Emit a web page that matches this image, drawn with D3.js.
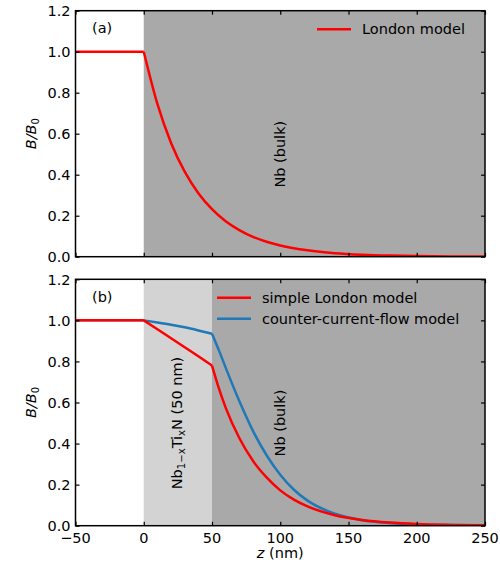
<!DOCTYPE html>
<html>
<head>
<meta charset="utf-8">
<script src="https://cdn.jsdelivr.net/npm/d3@7"></script>
<style>
  body { margin: 0; background: #fff; }
  svg text { font-family: "DejaVu Sans", sans-serif; fill: #000; }
  .axis path, .axis line { stroke: #000; }
</style>
</head>
<body>
<div id="chart"></div>
<script>
"use strict"

// values
const xTicks = [-50, 0, 50, 100, 150, 200, 250];
const yTicks = [0.0, 0.2, 0.4, 0.6, 0.8, 1.0, 1.2];

const zA =      [-50, 0,   10,    20,    30,    40,   50,    60,    70,   80,    90,    100,   120,   140,   160,    180,    200,   225,    250];
const londonA = [1.0, 1.0, 0.745, 0.555, 0.415, 0.31, 0.232, 0.173, 0.13, 0.097, 0.073, 0.055, 0.031, 0.017, 0.0095, 0.0053, 0.003, 0.0015, 0.0007];

const zB =       [-50, 0,   10,    20,    30,    40,    50,    55,    60,    70,    80,    90,    100,   110,   120,   140,   160,   180,   200,   225,   250];
const londonB =  [1.0, 1.0, 0.957, 0.913, 0.869, 0.825, 0.78,  0.67,  0.575, 0.427, 0.316, 0.235, 0.172, 0.127, 0.094, 0.051, 0.028, 0.015, 0.008, 0.004, 0.002];
const counterB = [1.0, 1.0, 0.99,  0.979, 0.966, 0.951, 0.935, 0.855, 0.77,  0.607, 0.462, 0.343, 0.248, 0.175, 0.122, 0.058, 0.027, 0.013, 0.006, 0.003, 0.001];

const panels = [
  { tag: "(a)", top: 10.7, bottom: 256.7, showX: false, kinks: [0],
    regions: [{ from: 0, to: 250, color: "#a9a9a9" }],
    series: [{ name: "London model", z: zA, v: londonA, color: "#ff0000" }],
    labels: [{ z: 100, y: 0.5, text: "Nb (bulk)" }] },
  { tag: "(b)", top: 279.3, bottom: 525.7, showX: true, kinks: [0, 50],
    regions: [{ from: 0, to: 50, color: "#d3d3d3" }, { from: 50, to: 250, color: "#a9a9a9" }],
    series: [{ name: "simple London model", z: zB, v: londonB, color: "#ff0000" },
             { name: "counter-current-flow model", z: zB, v: counterB, color: "#1f78b8" }],
    labels: [{ z: 100, y: 0.5, text: "Nb (bulk)" }, { z: 24, y: 0.5, text: "NbTiN" }] }
];

const totalWidth = 500, totalHeight = 563;
const left = 75.5, right = 485;
const fontSize = 14.5;

const svg = d3.select("#chart").append("svg")
  .attr("width", totalWidth)
  .attr("height", totalHeight);

const x = d3.scaleLinear().domain([-50, 250]).range([left, right]);

// split a series at the layer boundaries so each piece is smoothed on its own
function pieces(pts, kinks) {
  const out = [];
  let cur = [];
  pts.forEach(pt => {
    cur.push(pt);
    if (kinks.indexOf(pt[0]) !== -1) {
      if (cur.length > 1) out.push(cur);
      cur = [pt];
    }
  });
  if (cur.length > 1) out.push(cur);
  return out;
}

panels.forEach((p, pi) => {
  const y = d3.scaleLinear().domain([0, 1.2]).range([p.bottom, p.top]);
  const g = svg.append("g");

  g.append("clipPath").attr("id", "clip" + pi)
    .append("rect")
      .attr("x", left).attr("y", p.top)
      .attr("width", right - left).attr("height", p.bottom - p.top);

  const plot = g.append("g").attr("clip-path", `url(#clip${pi})`);

  plot.selectAll(".region")
    .data(p.regions)
    .enter().append("rect")
      .attr("x", d => x(d.from))
      .attr("y", p.top)
      .attr("width", d => x(d.to) - x(d.from))
      .attr("height", p.bottom - p.top)
      .attr("fill", d => d.color);

  const line = d3.line()
    .x(d => x(d[0]))
    .y(d => y(d[1]))
    .curve(d3.curveMonotoneX);

  // draw in reverse so the first series ends on top, like the picture
  p.series.slice().reverse().forEach(s => {
    const pts = s.z.map((z, i) => [z, s.v[i]]);
    const d = pieces(pts, p.kinks).map(seg => line(seg)).join("");
    plot.append("path")
      .attr("d", d)
      .attr("fill", "none")
      .attr("stroke", s.color)
      .attr("stroke-width", 2.5)
      .attr("stroke-linejoin", "round");
  });

  // rotated labels
  p.labels.forEach(l => {
    const t = g.append("text")
      .attr("transform", `translate(${x(l.z) + 5},${y(l.y)}) rotate(-90)`)
      .attr("text-anchor", "middle")
      .attr("font-size", fontSize);
    if (l.text === "NbTiN") {
      t.append("tspan").text("Nb");
      t.append("tspan").attr("font-size", fontSize * 0.7).attr("dy", 3).text("1\u2212x");
      t.append("tspan").attr("dy", -3).text("Ti");
      t.append("tspan").attr("font-size", fontSize * 0.7).attr("dy", 3).text("x");
      t.append("tspan").attr("dy", -3).text("N (50 nm)");
    } else {
      t.text(l.text);
    }
  });

  // axes, ticks pointing inward on all four sides
  const fmt = d3.format(".1f");
  g.append("g").attr("class", "axis")
    .attr("transform", `translate(${left},0)`)
    .call(d3.axisRight(y).tickValues(yTicks).tickSize(4).tickFormat(""))
    .call(a => a.select(".domain").remove());
  g.append("g").attr("class", "axis")
    .attr("transform", `translate(${right},0)`)
    .call(d3.axisLeft(y).tickValues(yTicks).tickSize(4).tickFormat(""))
    .call(a => a.select(".domain").remove());
  g.append("g").attr("class", "axis")
    .attr("transform", `translate(0,${p.bottom})`)
    .call(d3.axisTop(x).tickValues(xTicks).tickSize(4).tickFormat(""))
    .call(a => a.select(".domain").remove());
  g.append("g").attr("class", "axis")
    .attr("transform", `translate(0,${p.top})`)
    .call(d3.axisBottom(x).tickValues(xTicks).tickSize(4).tickFormat(""))
    .call(a => a.select(".domain").remove());
  g.selectAll(".axis line").attr("stroke-width", 1.2);

  g.append("rect")
    .attr("x", left).attr("y", p.top)
    .attr("width", right - left).attr("height", p.bottom - p.top)
    .attr("fill", "none").attr("stroke", "#000").attr("stroke-width", 1.5);

  // tick labels
  g.selectAll(".ylab")
    .data(yTicks)
    .enter().append("text")
      .attr("x", left - 5)
      .attr("y", d => y(d))
      .attr("dy", "0.36em")
      .attr("text-anchor", "end")
      .attr("font-size", fontSize)
      .text(d => fmt(d));

  if (p.showX) {
    g.selectAll(".xlab")
      .data(xTicks)
      .enter().append("text")
        .attr("x", d => x(d))
        .attr("y", p.bottom + 17)
        .attr("text-anchor", "middle")
        .attr("font-size", fontSize)
        .text(d => d < 0 ? "\u2212" + Math.abs(d) : d);

    const xl = g.append("text")
      .attr("x", (left + right) / 2)
      .attr("y", p.bottom + 32)
      .attr("text-anchor", "middle")
      .attr("font-size", fontSize);
    xl.append("tspan").attr("font-style", "italic").text("z");
    xl.append("tspan").text(" (nm)");
  }

  // y label
  const yl = g.append("text")
    .attr("transform", `translate(36,${(p.top + p.bottom) / 2}) rotate(-90)`)
    .attr("text-anchor", "middle")
    .attr("font-size", fontSize);
  yl.append("tspan").attr("font-style", "italic").text("B/B");
  yl.append("tspan").attr("font-size", fontSize * 0.7).attr("dy", 3).text("0");

  // panel tag
  g.append("text")
    .attr("x", 92)
    .attr("y", p.top + 22.5)
    .attr("font-size", fontSize)
    .text(p.tag);

  // legend
  const legend = g.append("g")
    .selectAll("g")
    .data(p.series)
    .enter().append("g")
      .attr("transform", (d, i) => `translate(0,${p.top + 18.5 + i * 21})`);

  const lx = p.series.length > 1 ? 217 : 317;
  legend.append("line")
    .attr("x1", lx).attr("x2", lx + 34)
    .attr("stroke", d => d.color)
    .attr("stroke-width", 2.5);
  legend.append("text")
    .attr("x", lx + 45)
    .attr("dy", "0.36em")
    .attr("font-size", 14.5)
    .text(d => d.name);
});
</script>
</body>
</html>
